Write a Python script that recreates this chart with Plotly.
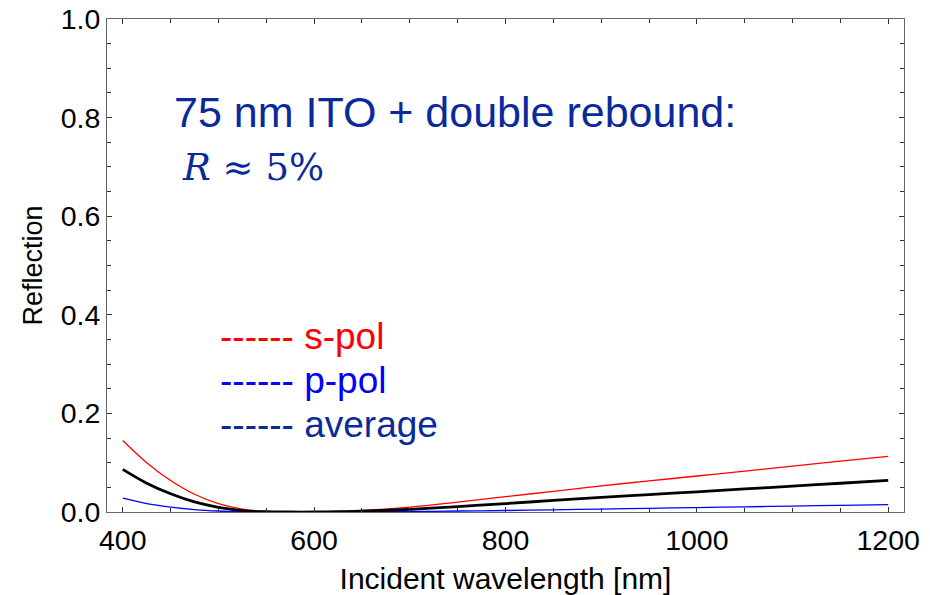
import plotly.graph_objects as go

wavelength = [400, 425, 450, 475, 500, 525, 550, 575, 600, 625, 650, 700, 750, 800,
              850, 900, 950, 1000, 1050, 1100, 1150, 1200]
s_pol = [0.145, 0.100, 0.064, 0.036, 0.017, 0.006, 0.001, 0.0, 0.0, 0.001, 0.003, 0.010,
         0.020, 0.031, 0.042, 0.053, 0.063, 0.073, 0.083, 0.093, 0.103, 0.113]
p_pol = [0.028, 0.017, 0.010, 0.005, 0.002, 0.0005, 0.0, 0.0, 0.0, 0.0002, 0.0005, 0.001,
         0.002, 0.003, 0.0045, 0.006, 0.0075, 0.009, 0.0105, 0.012, 0.0135, 0.015]
average = [0.0865, 0.0585, 0.037, 0.0205, 0.0095, 0.003, 0.0005, 0.0, 0.0, 0.0005, 0.0018,
           0.0055, 0.011, 0.017, 0.0235, 0.0295, 0.0353, 0.041, 0.0468, 0.0525, 0.0583, 0.064]

x_ticks = [400, 600, 800, 1000, 1200]
y_ticks = [0.0, 0.2, 0.4, 0.6, 0.8, 1.0]

title_line1 = "75 nm ITO + double rebound:"
title_line2 = "<i>R</i> ≈ 5%"
legend_labels = ["------ s-pol", "------ p-pol", "------ average"]
legend_colors = ["#ff0000", "#0000ff", "#0a2a9c"]

SANS = "Liberation Sans, Arial, sans-serif"

fig = go.Figure()
fig.add_trace(go.Scatter(x=wavelength, y=s_pol, mode="lines", line=dict(color="#ff0000", width=1.3, shape="spline")))
fig.add_trace(go.Scatter(x=wavelength, y=p_pol, mode="lines", line=dict(color="#0000ff", width=1.3, shape="spline")))
fig.add_trace(go.Scatter(x=wavelength, y=average, mode="lines", line=dict(color="#000000", width=2.8, shape="spline")))

axis_common = dict(
    showline=True, linecolor="#666666", linewidth=1, mirror="ticks",
    ticks="inside", ticklen=5, tickcolor="#333333", tickwidth=1,
    showgrid=False, zeroline=False, automargin=False,
    tickfont=dict(family=SANS, size=28.5, color="black"),
)

fig.update_xaxes(
    range=[383.5, 1216.5], tickvals=x_ticks, ticklabelstandoff=3,
    minor=dict(dtick=50, tick0=400, ticks="inside", ticklen=4, tickcolor="#333333"),
    title=dict(text="Incident wavelength [nm]", standoff=14,
               font=dict(family=SANS, size=30, color="black")),
    **axis_common,
)
fig.update_yaxes(
    range=[0, 1], tickvals=y_ticks, tickformat=".1f",
    minor=dict(dtick=0.05, tick0=0, ticks="inside", ticklen=4, tickcolor="#333333"),
    title=dict(text="Reflection", standoff=10,
               font=dict(family=SANS, size=27, color="black")),
    **axis_common,
)

fig.add_annotation(x=0.0818, y=0.812, xref="paper", yref="paper", xanchor="left", yanchor="middle",
                   text=title_line1, showarrow=False,
                   font=dict(family=SANS, size=43, color="#0a2a9c"))
fig.add_annotation(x=0.092, y=0.698, xref="paper", yref="paper", xanchor="left", yanchor="middle",
                   text=title_line2, showarrow=False,
                   font=dict(family="DejaVu Serif, Liberation Serif, serif", size=37, color="#0a2a9c"))

legend_y = [0.3556, 0.2667, 0.1773]
for lab, col, yy in zip(legend_labels, legend_colors, legend_y):
    fig.add_annotation(x=0.1396, y=yy, xref="paper", yref="paper", xanchor="left", yanchor="middle",
                       text=lab, showarrow=False,
                       font=dict(family=SANS, size=37, color=col))

fig.update_layout(
    width=930, height=595,
    margin=dict(l=107, r=26, t=19, b=83),
    paper_bgcolor="white", plot_bgcolor="white",
    showlegend=False,
)

fig.write_html("out.html")
